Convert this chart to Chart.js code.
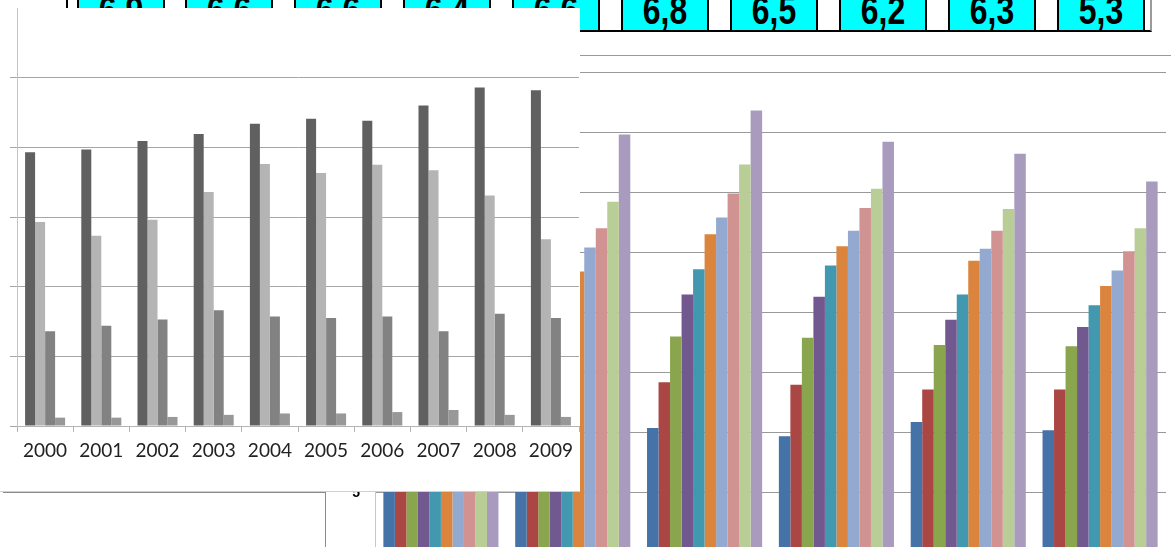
<!DOCTYPE html>
<html>
<head>
<meta charset="utf-8">
<script src="https://cdn.jsdelivr.net/npm/chart.js@4.4.1/dist/chart.umd.min.js"></script>
<style>
  html, body { margin: 0; padding: 0; background: #fff; }
  body { width: 1171px; height: 547px; overflow: hidden; position: relative; }

  /* linha da tabela com as células ciano */
  #linha-valores {
    position: absolute; left: 66px; top: -2px; height: 32px;
    display: flex; gap: 20.9px; padding-left: 8.5px; padding-right: 5.5px;
    border-left: 2px solid #000; border-bottom: 2px solid #000; border-right: 2px solid #9a9a9a;
  }
  .celula {
    position: relative; width: 84px; height: 32px; background: #00ffff; overflow: hidden;
    border-left: 2px solid #000; border-right: 2px solid #000;
  }
  .celula span {
    position: absolute; left: 0; right: 0; top: 0;
    font: bold 40px "Liberation Sans", Arial, sans-serif; line-height: 25px;
    text-align: center; color: #000; transform: scaleX(0.8);
  }

  #fundo { position: absolute; left: 0; top: 0; }
  #linha-topo { position: absolute; left: 375px; top: 55px; width: 796px; height: 1px; background: #9a9a9a; }
  #linha-base { position: absolute; left: 3px; top: 492px; width: 323px; height: 1px; background: #8a8a8a; }
  #linha-vertical { position: absolute; left: 325px; top: 492px; width: 1px; height: 60px; background: #8a8a8a; }

  /* caixa branca do gráfico de anos */
  #caixa {
    position: absolute; left: 0; top: 8px; width: 580px; height: 483px;
    background: #fff; border-bottom: 1px solid #d0d0d0;
  }
  #anos { position: absolute; left: 0; top: 0; }
</style>
</head>
<body>

<div id="linha-valores"></div>
<canvas id="fundo" width="1171" height="600"></canvas>
<div id="linha-topo"></div>
<div id="linha-base"></div>
<div id="linha-vertical"></div>
<div id="caixa"><canvas id="anos" width="580" height="483"></canvas></div>

<script>
// Valores da linha da tabela
const valoresTabela = ['6,9', '6,6', '6,6', '6,4', '6,6', '6,8', '6,5', '6,2', '6,3', '5,3'];

// Gráfico de fundo: 6 grupos, 10 séries coloridas
const grupos = ['1', '2', '3', '4', '5', '6'];
const serieAzul      = [10.2, 10.5, 10.4, 9.7, 10.9, 10.2];
const serieVermelha  = [13.8, 14.0, 14.2, 14.0, 13.6, 13.6];
const serieVerde     = [17.5, 18.0, 18.0, 17.9, 17.3, 17.2];
const serieRoxa      = [20.3, 20.6, 21.5, 21.3, 19.4, 18.8];
const serieTurquesa  = [22.5, 22.2, 23.6, 23.9, 21.5, 20.6];
const serieLaranja   = [24.5, 23.4, 26.5, 25.5, 24.3, 22.2];
const serieAzulClaro = [26.0, 25.4, 27.9, 26.8, 25.3, 23.5];
const serieRosa      = [27.8, 27.0, 29.9, 28.7, 26.8, 25.1];
const serieVerdeClaro = [30.0, 29.2, 32.3, 30.3, 28.6, 27.0];
const serieLilas     = [33.5, 34.8, 36.8, 34.2, 33.2, 30.9];
const ticksFundo = { min: 0, max: 40, passo: 5 };

// Gráfico da frente: anos 2000-2009, 4 séries em cinza
const anos = ['2000', '2001', '2002', '2003', '2004', '2005', '2006', '2007', '2008', '2009'];
const serieEscura  = [39.3, 39.7, 40.9, 41.9, 43.4, 44.1, 43.8, 46.0, 48.6, 48.2];
const serieClara   = [29.3, 27.3, 29.6, 33.6, 37.6, 36.3, 37.5, 36.7, 33.1, 26.8];
const serieMedia   = [13.6, 14.4, 15.3, 16.6, 15.7, 15.5, 15.7, 13.6, 16.1, 15.5];
const seriePequena = [1.2, 1.2, 1.3, 1.6, 1.8, 1.8, 2.0, 2.3, 1.6, 1.3];
const ticksAnos = { min: 0, max: 60, passo: 10 };

// Monta as células da tabela
const linha = document.getElementById('linha-valores');
valoresTabela.forEach(function (v) {
  const c = document.createElement('div');
  c.className = 'celula';
  const s = document.createElement('span');
  s.textContent = v;
  c.appendChild(s);
  linha.appendChild(c);
});

// Gráfico de fundo
const coresFundo = ['#4572a7', '#aa4643', '#89a54e', '#71588f', '#4198af',
                    '#db843d', '#93a9cf', '#d19392', '#b9cd96', '#a99bbd'];
const seriesFundo = [serieAzul, serieVermelha, serieVerde, serieRoxa, serieTurquesa,
                     serieLaranja, serieAzulClaro, serieRosa, serieVerdeClaro, serieLilas];

new Chart(document.getElementById('fundo').getContext('2d'), {
  type: 'bar',
  data: {
    labels: grupos,
    datasets: seriesFundo.map(function (dados, i) {
      return {
        data: dados,
        backgroundColor: coresFundo[i],
        borderWidth: 0,
        categoryPercentage: 0.873,
        barPercentage: 1
      };
    })
  },
  options: {
    responsive: false,
    animation: false,
    devicePixelRatio: 1,
    layout: { padding: { top: 72, right: 5, bottom: 47, left: 0 } },
    plugins: { legend: { display: false }, tooltip: { enabled: false } },
    scales: {
      x: { display: false },
      y: {
        min: ticksFundo.min,
        max: ticksFundo.max,
        afterFit: function (s) { s.width = 375; },
        ticks: {
          stepSize: ticksFundo.passo,
          padding: 15,
          color: '#000',
          font: { family: '"Liberation Sans", Arial', size: 14, weight: 'bold' }
        },
        grid: { color: '#999999', drawTicks: false },
        border: { color: '#c8c8c8' }
      }
    }
  }
});

// Gráfico dos anos
const coresAnos = ['#606060', '#b4b4b4', '#828282', '#989898'];
const seriesAnos = [serieEscura, serieClara, serieMedia, seriePequena];

new Chart(document.getElementById('anos').getContext('2d'), {
  type: 'bar',
  data: {
    labels: anos,
    datasets: seriesAnos.map(function (dados, i) {
      return {
        data: dados,
        backgroundColor: coresAnos[i],
        borderWidth: 0,
        categoryPercentage: 0.712,
        barPercentage: 1
      };
    })
  },
  options: {
    responsive: false,
    animation: false,
    devicePixelRatio: 1,
    layout: { padding: { top: 0, right: 1, bottom: 0, left: 0 } },
    plugins: { legend: { display: false }, tooltip: { enabled: false } },
    scales: {
      x: {
        afterFit: function (s) { s.height = 65; },
        grid: { drawOnChartArea: false, color: '#b4b4b4', tickLength: 6 },
        border: { color: '#b4b4b4' },
        ticks: {
          padding: 7,
          maxRotation: 0,
          autoSkip: false,
          color: '#222222',
          font: { family: 'Lato', size: 19 }
        }
      },
      y: {
        min: ticksAnos.min,
        max: ticksAnos.max,
        afterFit: function (s) { s.width = 17; },
        ticks: { display: false, stepSize: ticksAnos.passo },
        grid: {
          tickLength: 7,
          // a linha do topo fica na borda da caixa e não aparece
          color: function (ctx) {
            return ctx.tick && ctx.tick.value === ticksAnos.max ? 'rgba(0,0,0,0)' : '#a6a6a6';
          }
        },
        border: { color: '#c4c4c4' }
      }
    }
  }
});
</script>
</body>
</html>
